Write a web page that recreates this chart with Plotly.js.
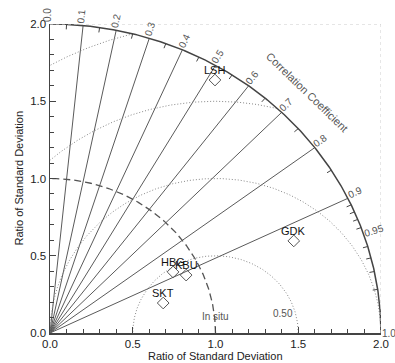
<!DOCTYPE html>
<html><head><meta charset="utf-8">
<script src="https://cdn.plot.ly/plotly-3.0.1.min.js"></script>
<style>html,body{margin:0;padding:0;background:#fff}#chart{width:395px;height:363px}</style>
</head><body><div id="chart"></div>
<script>
// ---- data ----
const stations = ['LSH', 'GDK', 'HBG', 'KBU', 'SKT'];
const stdRatio = [1.917, 1.589, 0.842, 0.904, 0.711];
const correlation = [0.520, 0.927, 0.883, 0.910, 0.962];

const corrTickValues = [0.0, 0.1, 0.2, 0.3, 0.4, 0.5, 0.6, 0.7, 0.8, 0.9, 0.95, 1.0];
const corrTickLabels = ['0.0', '0.1', '0.2', '0.3', '0.4', '0.5', '0.6', '0.7', '0.8', '0.9', '0.95', '1.0'];
const corrLineValues = [0.1, 0.2, 0.3, 0.4, 0.5, 0.6, 0.7, 0.8, 0.9];
const corrMinorTicks = [0.05, 0.15, 0.25, 0.35, 0.45, 0.55, 0.65, 0.75, 0.85, 0.91, 0.92, 0.93, 0.94, 0.96, 0.97, 0.98, 0.99];
const rmsRadii = [0.5, 1.0, 1.5, 2.0];
const rmsLabels = ['0.50', '1.00', '1.50', '2.00'];
const axisTickValues = [0, 0.5, 1.0, 1.5, 2.0];
const axisTickLabels = ['0.0', '0.5', '1.0', '1.5', '2.0'];
const refStd = 1.0;
const refLabel = 'In situ';
const maxStd = 2.0;
const axisTitle = 'Ratio of Standard Deviation';
const corrTitle = 'Correlation Coefficient';

// ---- layout geometry ----
const W = 395, H = 363;
const M = {l: 50, r: 14, t: 24, b: 30};
const sx = (W - M.l - M.r) / maxStd;
const sy = (H - M.t - M.b) / maxStd;
const FONT = 'Liberation Sans, Arial, Helvetica, sans-serif';

const traces = [];

// radial correlation lines
{
  const x = [], y = [];
  corrLineValues.forEach(c => {
    const s = Math.sqrt(1 - c * c);
    x.push(0, maxStd * c, null); y.push(0, maxStd * s, null);
  });
  traces.push({x, y, mode: 'lines', line: {color: '#5a5a5a', width: 1}, hoverinfo: 'skip', cliponaxis: false});
}

// RMS circles around reference point
rmsRadii.forEach(r => {
  const x = [], y = [];
  for (let i = 0; i <= 720; i++) {
    const a = Math.PI * i / 720;
    const px = refStd + r * Math.cos(a), py = r * Math.sin(a);
    if (px >= 0 && py >= 0 && px * px + py * py <= maxStd * maxStd + 1e-9) { x.push(px); y.push(py); }
  }
  traces.push({x, y, mode: 'lines', line: {color: '#888', width: 1, dash: '1px,2px'}, hoverinfo: 'skip', cliponaxis: false});
});

// reference std arc (dashed)
{
  const x = [], y = [];
  for (let i = 0; i <= 360; i++) {
    const a = Math.PI / 2 * i / 360;
    x.push(refStd * Math.cos(a)); y.push(refStd * Math.sin(a));
  }
  traces.push({x, y, mode: 'lines', line: {color: '#555', width: 1.3, dash: '7px,4px'}, hoverinfo: 'skip', cliponaxis: false});
}

// outer arc
{
  const x = [], y = [];
  for (let i = 0; i <= 360; i++) {
    const a = Math.PI / 2 * i / 360;
    x.push(maxStd * Math.cos(a)); y.push(maxStd * Math.sin(a));
  }
  traces.push({x, y, mode: 'lines', line: {color: '#444', width: 1.5}, hoverinfo: 'skip', cliponaxis: false});
}

// minor ticks on the arc
{
  const x = [], y = [];
  corrMinorTicks.forEach(c => {
    const s = Math.sqrt(1 - c * c);
    const pl = Math.hypot(c * sx, s * sy);
    const d = 5 / pl;
    x.push(maxStd * c, (maxStd - d) * c, null);
    y.push(maxStd * s, (maxStd - d) * s, null);
  });
  traces.push({x, y, mode: 'lines', line: {color: '#444', width: 1}, hoverinfo: 'skip', cliponaxis: false});
}

// station points
const ptX = stdRatio.map((r, i) => r * correlation[i]);
const ptY = stdRatio.map((r, i) => r * Math.sqrt(1 - correlation[i] * correlation[i]));
traces.push({
  x: ptX, y: ptY, text: stations,
  mode: 'markers',
  marker: {symbol: 'diamond-open', size: 9, color: '#555', line: {width: 1, color: '#555'}},
  hoverinfo: 'text', cliponaxis: false
});

// ---- annotations ----
const annotations = [];
stations.forEach((s, i) => {
  annotations.push({x: ptX[i], y: ptY[i], xref: 'x', yref: 'y', text: s, showarrow: false,
    yshift: 10, font: {family: FONT, size: 11, color: '#111'}});
});
corrTickValues.forEach((c, i) => {
  const s = Math.sqrt(Math.max(0, 1 - c * c));
  const dx = c * sx, dy = s * sy;
  const n = Math.hypot(dx, dy);
  const ux = dx / n, uy = dy / n;
  const lab = corrTickLabels[i];
  const wpx = (lab.replace('.', '').length * 5.56 + 2.78);
  const dist = 1.5 + wpx / 2;
  const perp = c >= 1 ? 0 : 2.5;
  const phi = Math.atan2(uy, ux) * 180 / Math.PI;
  annotations.push({
    x: maxStd * c, y: maxStd * s, xref: 'x', yref: 'y',
    text: lab, showarrow: false, textangle: -phi,
    xanchor: 'center', yanchor: 'middle',
    xshift: ux * dist - uy * perp, yshift: uy * dist + ux * perp,
    font: {family: FONT, size: 10, color: '#555'}
  });
});
// correlation title
annotations.push({
  x: 1.553, y: 1.56, xref: 'x', yref: 'y', text: corrTitle, showarrow: false, textangle: 44,
  xanchor: 'center', yanchor: 'middle',
  font: {family: FONT, size: 11, color: '#555'}
});
// rms labels
rmsRadii.forEach((r, i) => {
  const a = 15 * Math.PI / 180;
  const px = refStd + r * Math.cos(a), py = r * Math.sin(a);
  if (px <= maxStd - 0.05) {
    annotations.push({x: px, y: py, xref: 'x', yref: 'y', text: rmsLabels[i], showarrow: false,
      xanchor: 'right', yanchor: 'middle', font: {family: FONT, size: 10, color: '#555'}});
  }
});
// reference label
annotations.push({x: refStd, y: 0, xref: 'x', yref: 'y', text: refLabel, showarrow: false,
  yanchor: 'middle', yshift: 17, font: {family: FONT, size: 10, color: '#555'}});
// axis titles
annotations.push({x: 0.5, y: 0, xref: 'paper', yref: 'paper', text: axisTitle, showarrow: false,
  xanchor: 'center', yanchor: 'middle', yshift: -23, font: {family: FONT, size: 11, color: '#222'}});
annotations.push({x: 0, y: 0.5, xref: 'paper', yref: 'paper', text: axisTitle, showarrow: false,
  xanchor: 'center', yanchor: 'middle', textangle: -90, xshift: -32, font: {family: FONT, size: 11, color: '#222'}});

const axisCommon = {
  range: [0, maxStd], showgrid: false, zeroline: false, showline: true, linecolor: '#444', linewidth: 1.5,
  ticks: 'inside', ticklen: 6, tickcolor: '#444', tickwidth: 1,
  tickvals: axisTickValues, ticktext: axisTickLabels,
  tickfont: {family: FONT, size: 11.5, color: '#222'},
  minor: {tickmode: 'linear', tick0: 0, dtick: 0.1, ticks: 'inside', ticklen: 4, tickcolor: '#444', tickwidth: 1},
  fixedrange: true
};

const layout = {
  width: W, height: H,
  margin: M,
  paper_bgcolor: '#fff', plot_bgcolor: '#fff',
  showlegend: false,
  xaxis: Object.assign({}, axisCommon),
  yaxis: Object.assign({}, axisCommon),
  annotations,
  shapes: [
    {type: 'line', xref: 'x', yref: 'y', x0: 0, y0: maxStd, x1: maxStd, y1: maxStd, line: {color: '#ccc', width: 1, dash: 'dot'}},
    {type: 'line', xref: 'x', yref: 'y', x0: maxStd, y0: 0, x1: maxStd, y1: maxStd, line: {color: '#ccc', width: 1, dash: 'dot'}}
  ]
};

Plotly.newPlot('chart', traces, layout, {displayModeBar: false, staticPlot: true});
</script>
</body></html>
